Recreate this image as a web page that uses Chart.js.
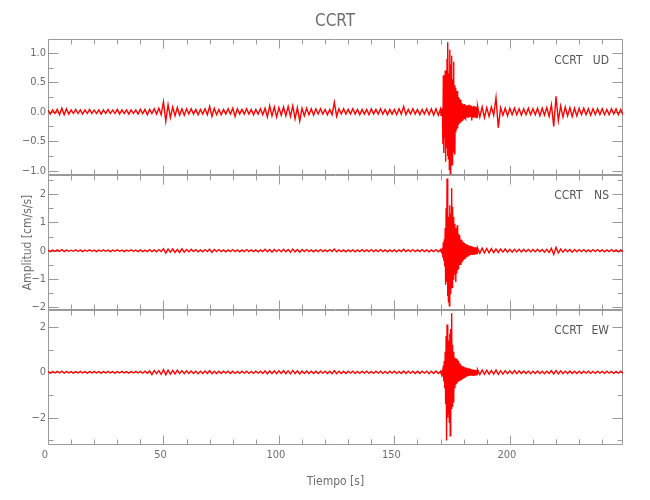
<!DOCTYPE html>
<html>
<head>
<meta charset="utf-8">
<title>CCRT</title>
<script src="https://cdn.jsdelivr.net/npm/chart.js@4.4.1/dist/chart.umd.min.js"></script>
<style>
  html, body { margin: 0; padding: 0; background: #fff; }
  #wrap { position: relative; width: 650px; height: 500px; background: #fff; }
  #wrap canvas { position: absolute; left: 0; top: 0; }
</style>
</head>
<body>
<div id="wrap">
  <canvas id="udChart" width="650" height="500"></canvas>
  <canvas id="nsChart" width="650" height="500"></canvas>
  <canvas id="ewChart" width="650" height="500"></canvas>
</div>
<script>
// Three-component accelerogram, station CCRT. Each trace is stored as three
// pieces: 1 s samples before the event, 0.2 s samples across the strong
// motion window, and 1 s samples after it.
const STATION = "CCRT";
const COMPONENTS = ["UD", "NS", "EW"];
const X_MAX = 249;
const EVENT_START = 170;
const EVENT_STEP = 0.2;
const AFTER_START = 186;
const X_TICKS = [0, 50, 100, 150, 200];

// ---- UD ----
const udBefore = [
  0.03,-0.04,0.03,-0.03,0.04,-0.05,0.06,-0.05,0.05,-0.04,
  0.03,-0.03,0.04,-0.03,0.03,-0.04,0.03,-0.03,0.04,-0.03,
  0.03,-0.03,0.03,-0.04,0.03,-0.03,0.04,-0.03,0.03,-0.03,
  0.04,-0.04,0.03,-0.03,0.03,-0.04,0.03,-0.03,0.03,-0.04,
  0.04,-0.03,0.04,-0.05,0.04,-0.03,0.05,-0.04,0.06,-0.05,
  0.17,-0.16,0.12,-0.10,0.08,-0.07,0.07,-0.06,0.05,-0.06,
  0.05,-0.04,0.05,-0.04,0.04,-0.05,0.04,-0.04,0.05,-0.05,
  0.09,-0.08,0.06,-0.05,0.04,-0.05,0.04,-0.04,0.05,-0.04,
  0.06,-0.08,0.05,-0.04,0.04,-0.04,0.05,-0.04,0.04,-0.05,
  0.04,-0.04,0.05,-0.05,0.06,-0.09,0.10,-0.07,0.08,-0.09,
  0.07,-0.06,0.08,-0.07,0.09,-0.08,0.10,-0.12,0.07,-0.16,
  0.06,-0.07,0.06,-0.05,0.05,-0.06,0.05,-0.04,0.05,-0.04,
  0.04,-0.05,0.04,-0.05,0.16,-0.08,0.05,-0.04,0.05,-0.04,
  0.04,-0.04,0.05,-0.04,0.04,-0.05,0.04,-0.04,0.04,-0.05,
  0.05,-0.04,0.04,-0.04,0.05,-0.04,0.04,-0.05,0.04,-0.04,
  0.04,-0.05,0.05,-0.04,0.09,-0.05,0.04,-0.04,0.05,-0.04,
  0.04,-0.05,0.04,-0.04,0.05,-0.05,0.05,-0.06,0.05,-0.06
];
const udEvent = [
  0.05,-0.06,0.05,-0.05,0.06,
  -0.55,0.62,-0.70,0.58,-0.45,
  0.70,-0.85,0.50,-0.62,0.90,
  -0.75,1.18,-0.80,0.65,-0.98,
  1.05,-1.05,0.80,-0.70,0.95,
  -0.90,0.55,-0.60,0.85,-0.65,
  0.45,-0.72,0.40,-0.35,0.30,
  -0.30,0.35,-0.28,0.25,-0.22,
  0.22,-0.20,0.18,-0.17,0.20,
  -0.15,0.15,-0.14,0.13,-0.12,
  0.12,-0.11,0.13,-0.10,0.11,
  -0.12,0.10,-0.09,0.11,-0.10,
  0.09,-0.10,0.12,-0.08,0.09,
  -0.09,0.10,-0.15,0.08,-0.09,
  0.08,-0.09,0.10,-0.08,0.09,
  -0.08,0.09,-0.10,0.08,-0.09
];
const udAfter = [
  0.10,-0.09,0.08,-0.10,
  0.07,-0.08,0.08,-0.06,0.24,-0.27,0.07,-0.06,0.06,-0.07,
  0.06,-0.05,0.06,-0.05,0.05,-0.06,0.05,-0.05,0.06,-0.05,
  0.05,-0.05,0.06,-0.07,0.06,-0.06,0.07,-0.08,0.12,-0.25,
  0.26,-0.15,0.10,-0.09,0.08,-0.07,0.07,-0.08,0.06,-0.07,
  0.06,-0.05,0.06,-0.05,0.05,-0.06,0.05,-0.05,0.05,-0.05,
  0.05,-0.05,0.04,-0.05,0.05,-0.04,0.05,-0.05,0.04,-0.05
];

// ---- NS ----
const nsBefore = [
  0.02,-0.03,0.02,-0.02,0.03,-0.02,0.04,-0.03,0.02,-0.02,
  0.02,-0.02,0.03,-0.02,0.02,-0.03,0.02,-0.02,0.03,-0.02,
  0.02,-0.03,0.02,-0.02,0.03,-0.02,0.02,-0.03,0.02,-0.02,
  0.03,-0.02,0.02,-0.03,0.02,-0.02,0.03,-0.02,0.02,-0.03,
  0.03,-0.03,0.02,-0.03,0.04,-0.03,0.03,-0.04,0.04,-0.03,
  0.07,-0.08,0.06,-0.05,0.06,-0.06,0.05,-0.06,0.07,-0.05,
  0.04,-0.04,0.05,-0.03,0.04,-0.04,0.03,-0.04,0.04,-0.03,
  0.05,-0.06,0.04,-0.03,0.04,-0.03,0.03,-0.04,0.03,-0.03,
  0.04,-0.03,0.03,-0.04,0.03,-0.03,0.04,-0.03,0.03,-0.03,
  0.03,-0.04,0.03,-0.03,0.05,-0.04,0.04,-0.05,0.04,-0.03,
  0.04,-0.04,0.05,-0.04,0.04,-0.05,0.06,-0.04,0.04,-0.05,
  0.04,-0.03,0.04,-0.03,0.03,-0.04,0.03,-0.03,0.04,-0.03,
  0.03,-0.03,0.04,-0.03,0.06,-0.04,0.03,-0.03,0.03,-0.04,
  0.03,-0.03,0.03,-0.04,0.03,-0.03,0.04,-0.03,0.03,-0.03,
  0.04,-0.03,0.03,-0.03,0.04,-0.03,0.03,-0.04,0.03,-0.03,
  0.03,-0.04,0.03,-0.03,0.05,-0.03,0.03,-0.03,0.04,-0.03,
  0.03,-0.03,0.04,-0.03,0.03,-0.04,0.03,-0.03,0.04,-0.04
];
const nsEvent = [
  0.04,-0.03,0.05,-0.06,0.10,
  -0.25,0.30,-0.35,0.40,-0.55,
  0.80,-1.20,1.50,-1.10,2.55,
  -1.60,1.40,-1.80,1.20,-1.94,
  1.60,-1.50,1.30,-1.20,2.20,
  -1.30,1.55,-1.00,1.20,-0.90,
  0.95,-0.85,0.80,-1.10,0.75,
  -0.80,0.90,-0.70,0.60,-0.65,
  0.55,-0.50,0.45,-0.48,0.40,
  -0.40,0.38,-0.35,0.32,-0.30,
  0.30,-0.28,0.27,-0.25,0.24,
  -0.24,0.22,-0.22,0.20,-0.20,
  0.18,-0.19,0.17,-0.16,0.17,
  -0.15,0.16,-0.14,0.15,-0.13,
  0.14,-0.12,0.13,-0.12,0.12,
  -0.11,0.12,-0.10,0.11,-0.10
];
const nsAfter = [
  0.10,-0.09,0.09,-0.08,
  0.08,-0.07,0.07,-0.07,0.06,-0.06,0.06,-0.05,0.06,-0.05,
  0.05,-0.05,0.05,-0.04,0.05,-0.04,0.05,-0.04,0.04,-0.04,
  0.04,-0.04,0.05,-0.04,0.04,-0.05,0.05,-0.06,0.08,-0.13,
  0.12,-0.08,0.06,-0.05,0.05,-0.04,0.04,-0.05,0.04,-0.04,
  0.04,-0.03,0.04,-0.04,0.03,-0.04,0.04,-0.03,0.04,-0.03,
  0.03,-0.04,0.03,-0.03,0.04,-0.03,0.03,-0.04,0.03,-0.03
];

// ---- EW ----
const ewBefore = [
  0.03,-0.04,0.03,-0.03,0.04,-0.03,0.05,-0.04,0.04,-0.03,
  0.03,-0.04,0.03,-0.03,0.04,-0.03,0.03,-0.04,0.03,-0.03,
  0.04,-0.03,0.03,-0.04,0.03,-0.03,0.04,-0.03,0.03,-0.04,
  0.03,-0.03,0.04,-0.03,0.03,-0.04,0.03,-0.03,0.04,-0.03,
  0.04,-0.04,0.05,-0.04,0.06,-0.10,0.08,-0.06,0.07,-0.09,
  0.12,-0.11,0.09,-0.08,0.08,-0.07,0.09,-0.06,0.07,-0.06,
  0.06,-0.05,0.06,-0.05,0.05,-0.06,0.05,-0.05,0.06,-0.05,
  0.07,-0.06,0.05,-0.05,0.05,-0.05,0.05,-0.04,0.05,-0.05,
  0.05,-0.05,0.04,-0.05,0.05,-0.04,0.05,-0.05,0.04,-0.05,
  0.05,-0.04,0.05,-0.05,0.06,-0.07,0.06,-0.05,0.06,-0.06,
  0.06,-0.05,0.07,-0.06,0.06,-0.07,0.08,-0.06,0.06,-0.07,
  0.05,-0.05,0.06,-0.05,0.05,-0.05,0.05,-0.05,0.05,-0.04,
  0.05,-0.05,0.05,-0.06,0.07,-0.06,0.05,-0.05,0.05,-0.05,
  0.05,-0.04,0.05,-0.05,0.04,-0.05,0.05,-0.04,0.05,-0.05,
  0.04,-0.05,0.05,-0.04,0.05,-0.05,0.04,-0.05,0.05,-0.04,
  0.05,-0.05,0.04,-0.05,0.06,-0.05,0.05,-0.04,0.05,-0.05,
  0.05,-0.05,0.05,-0.04,0.05,-0.06,0.05,-0.05,0.06,-0.05
];
const ewEvent = [
  0.05,-0.06,0.06,-0.05,0.06,
  -0.20,0.30,-0.40,0.50,-0.70,
  0.90,-1.40,1.60,-3.00,2.10,
  -2.00,1.50,-1.80,1.40,-2.20,
  1.70,-2.80,1.90,-1.60,2.60,
  -1.50,1.20,-1.30,0.90,-1.00,
  0.65,-0.70,0.60,-0.55,0.60,
  -0.50,0.55,-0.45,0.50,-0.40,
  0.40,-0.38,0.35,-0.32,0.34,
  -0.30,0.28,-0.27,0.26,-0.24,
  0.25,-0.22,0.22,-0.20,0.21,
  -0.19,0.20,-0.18,0.17,-0.17,
  0.16,-0.16,0.18,-0.15,0.14,
  -0.15,0.13,-0.14,0.13,-0.12,
  0.12,-0.13,0.11,-0.12,0.11,
  -0.11,0.10,-0.11,0.10,-0.10
];
const ewAfter = [
  0.12,-0.10,0.10,-0.09,
  0.09,-0.08,0.08,-0.08,0.10,-0.09,0.07,-0.08,0.07,-0.06,
  0.06,-0.06,0.07,-0.06,0.06,-0.05,0.06,-0.05,0.05,-0.06,
  0.05,-0.05,0.06,-0.05,0.05,-0.06,0.05,-0.05,0.07,-0.08,
  0.08,-0.07,0.06,-0.06,0.05,-0.05,0.06,-0.05,0.05,-0.05,
  0.05,-0.05,0.05,-0.04,0.05,-0.05,0.04,-0.05,0.05,-0.04,
  0.04,-0.05,0.05,-0.04,0.04,-0.05,0.04,-0.04,0.05,-0.04
];

// axis ranges per panel (exact data range, IDL style)
const Y_RANGES = [[-1.073, 1.227], [-2.09, 2.67], [-3.2, 2.74]];
const Y_STEPS = [0.5, 1, 2];
const Y_DECIMALS = [1, 0, 0];

const FONT = "'Liberation Sans Narrow', 'DejaVu Sans Condensed', 'Liberation Sans', sans-serif";
const AXIS_COLOR = "#9a9a9a";
const TEXT_COLOR = "#6e6e6e";
const LABEL_COLOR = "#555555";
const TRACE_COLOR = "#ff0000";
const PLOT_LEFT = 48;
const PLOT_RIGHT_GAP = 27;

Chart.defaults.font.family = FONT;
Chart.defaults.color = TEXT_COLOR;

function trace(before, event, after) {
  const pts = [];
  before.forEach((y, i) => pts.push({ x: i, y }));
  event.forEach((y, i) => pts.push({ x: EVENT_START + i * EVENT_STEP, y }));
  after.forEach((y, i) => pts.push({ x: AFTER_START + i, y }));
  return pts;
}

const minus = (s) => s.replace("-", "\u2212");

// IDL-like box: inward ticks on all four sides, plus the panel label
const idlFrame = {
  id: "idlFrame",
  beforeDatasetsDraw(chart, args, opts) {
    const { ctx, chartArea: a, scales } = chart;
    const xs = scales.x, ys = scales.y;
    const L = Math.round(a.left) + 0.5, R = Math.round(a.right) - 0.5;
    const T = Math.round(a.top) + 0.5, B = Math.round(a.bottom) - 0.5;
    ctx.save();
    ctx.strokeStyle = AXIS_COLOR;
    ctx.lineWidth = 1;
    ctx.beginPath();
    ctx.rect(L, T, R - L, B - T);
    for (let v = 0; v <= X_MAX; v += 10) {
      const px = Math.round(xs.getPixelForValue(v)) + 0.5;
      const len = v % 50 === 0 ? 9 : 5;
      ctx.moveTo(px, T); ctx.lineTo(px, T + len);
      ctx.moveTo(px, B); ctx.lineTo(px, B - len);
    }
    const minor = opts.step / 2;
    for (let k = Math.ceil(ys.min / minor - 1e-9); k * minor <= ys.max + 1e-9; k++) {
      const py = Math.round(ys.getPixelForValue(k * minor)) + 0.5;
      const len = k % 2 === 0 ? 10 : 5;
      ctx.moveTo(L, py); ctx.lineTo(L + len, py);
      ctx.moveTo(R, py); ctx.lineTo(R - len, py);
    }
    ctx.stroke();
    ctx.restore();
  },
  afterDraw(chart, args, opts) {
    const { ctx, chartArea: a } = chart;
    ctx.save();
    ctx.fillStyle = LABEL_COLOR;
    ctx.font = "12px " + FONT;
    ctx.textAlign = "right";
    ctx.textBaseline = "middle";
    ctx.fillText(STATION, a.right - 40.5, a.top + 21);
    ctx.fillText(opts.comp, a.right - 14, a.top + 21);
    ctx.restore();
  },
};

function makePanel(canvasId, idx, data, extra) {
  const [yMin, yMax] = Y_RANGES[idx];
  const step = Y_STEPS[idx];
  const dec = Y_DECIMALS[idx];
  const isLast = idx === 2;
  const yWidth = PLOT_LEFT - extra.padding.left;
  const scales = {
    x: {
      type: "linear",
      min: 0,
      max: X_MAX,
      display: isLast,
      grid: { display: false, drawTicks: false },
      border: { display: false },
      afterBuildTicks: (s) => { s.ticks = X_TICKS.map((value) => ({ value })); },
      ticks: {
        maxRotation: 0,
        autoSkip: false,
        padding: 4,
        labelOffset: -3,
        font: { size: 11 },
        color: TEXT_COLOR,
        callback: (v) => String(v),
      },
      title: {
        display: isLast,
        text: "Tiempo [s]",
        font: { size: 12 },
        color: TEXT_COLOR,
        padding: { top: 0, bottom: 11 },
      },
      afterFit: (s) => { if (isLast) s.height = 55; },
    },
    y: {
      min: yMin,
      max: yMax,
      grid: { display: false, drawTicks: false },
      border: { display: false },
      ticks: {
        stepSize: step,
        includeBounds: false,
        padding: 2,
        font: { size: 11 },
        color: TEXT_COLOR,
        callback: (v) => minus(Number(v).toFixed(dec)),
      },
      title: {
        display: idx === 1,
        text: "Amplitud [cm/s/s]",
        font: { size: 12 },
        color: TEXT_COLOR,
        padding: { top: 21, bottom: 0 },
      },
      afterFit: (s) => { s.width = yWidth; },
    },
  };
  if (extra.rightGap) {
    // empty right-hand box so the full-width title centres over the plot
    scales.yR = {
      position: "right",
      min: yMin,
      max: yMax,
      grid: { display: false, drawTicks: false },
      border: { display: false },
      ticks: { display: false },
      afterFit: (s) => { s.width = extra.rightGap; },
    };
  }
  return new Chart(document.getElementById(canvasId), {
    type: "line",
    data: {
      datasets: [{
        data,
        borderColor: TRACE_COLOR,
        borderWidth: 1.4,
        pointRadius: 0,
        tension: 0,
        fill: false,
      }],
    },
    options: {
      responsive: false,
      animation: false,
      events: [],
      layout: { padding: extra.padding },
      plugins: {
        legend: { display: false },
        tooltip: { enabled: false },
        title: extra.title || { display: false },
        idlFrame: { comp: COMPONENTS[idx], step },
      },
      scales,
    },
    plugins: [idlFrame],
  });
}

makePanel("udChart", 0, trace(udBefore, udEvent, udAfter), {
  padding: { top: 0, bottom: 325, left: 20, right: 0 },
  rightGap: PLOT_RIGHT_GAP,
  title: {
    display: true,
    text: STATION,
    font: { size: 17, weight: "normal" },
    color: TEXT_COLOR,
    padding: { top: 11, bottom: 8 },
  },
});
makePanel("nsChart", 1, trace(nsBefore, nsEvent, nsAfter), {
  padding: { top: 175, bottom: 190, left: 0, right: PLOT_RIGHT_GAP },
});
makePanel("ewChart", 2, trace(ewBefore, ewEvent, ewAfter), {
  padding: { top: 310, bottom: 0, left: 0, right: PLOT_RIGHT_GAP },
});
</script>
</body>
</html>
